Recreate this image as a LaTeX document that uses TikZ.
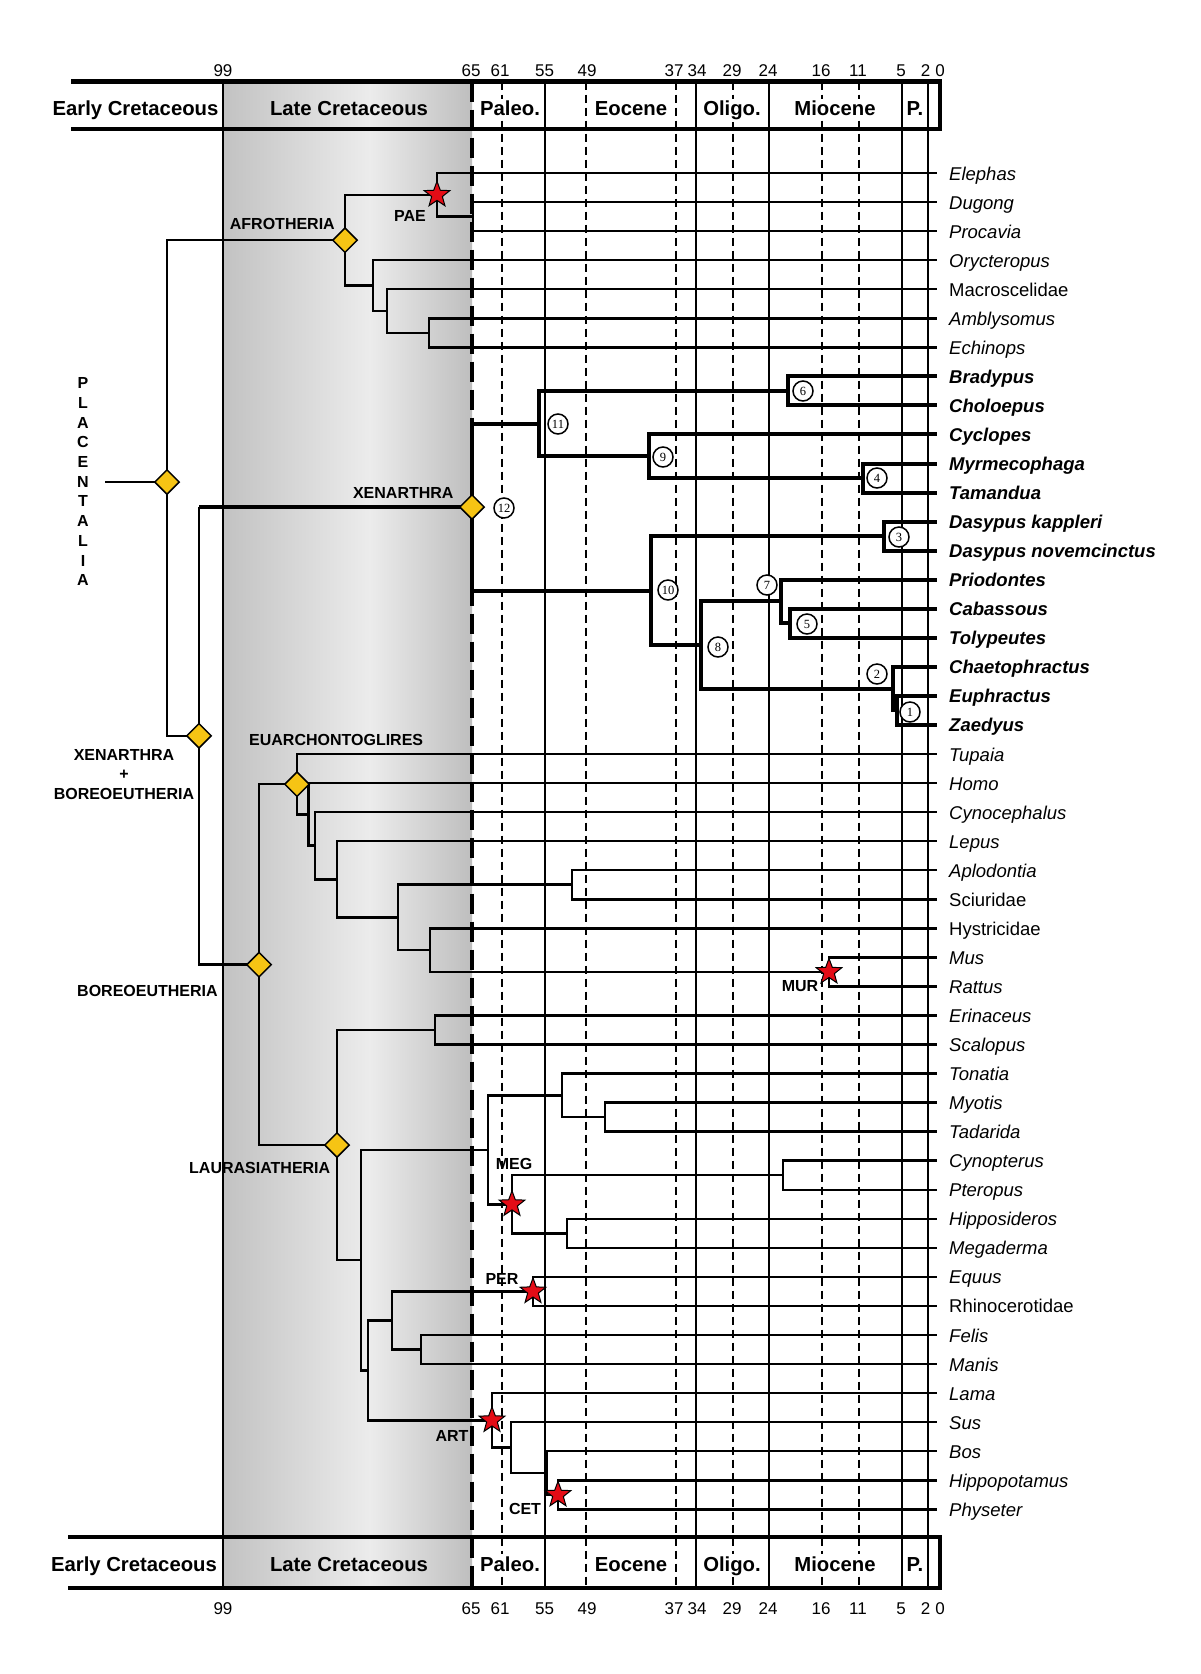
\documentclass[tikz,border=0pt]{standalone}
\usepackage{fontspec}
\setmainfont{Liberation Sans}
\newfontfamily\numserif{Liberation Serif}
\usetikzlibrary{shapes.geometric}
\definecolor{diay}{RGB}{246,196,20}
\definecolor{stred}{RGB}{228,12,22}
\definecolor{gL}{RGB}{194,194,194}
\definecolor{gM}{RGB}{236,236,236}
\definecolor{gR}{RGB}{190,190,190}
\newcommand{\tY}[1]{173+29.05*(#1)}
\begin{document}
\begin{tikzpicture}[x=1pt,y=-1pt,
  tree/.style={line width=2.5pt},
  xtree/.style={line width=4pt},
  tline/.style={line width=1.6pt},
  dline/.style={line width=1.6pt, dash pattern=on 8pt off 5pt},
  kline/.style={line width=4pt, dash pattern=on 20pt off 8pt},
  hline/.style={line width=4.5pt, line join=miter},
  dia/.style={diamond, draw=black, line width=1.5pt, fill=diay, minimum width=25pt, minimum height=25pt, inner sep=0pt},
  stary/.style={star, star points=5, star point ratio=2.4, draw=black, line width=1pt, fill=stred, minimum size=27pt, inner sep=0pt},
  circ/.style={circle, draw=black, line width=1.5pt, fill=white, minimum size=20pt, inner sep=0pt, font=\numserif\fontsize{12.5}{12.5}\selectfont},
  clab/.style={font=\bfseries\fontsize{16}{18}\selectfont, inner sep=0pt},
  hdr/.style={font=\bfseries\fontsize{20.3}{22}\selectfont, inner sep=0pt, anchor=base},
  hdrw/.style={hdr, fill=white, inner xsep=1pt, inner ysep=2pt},
  num/.style={font=\fontsize{17}{18}\selectfont, inner sep=0pt, anchor=base},
  taxon/.style={anchor=base west, inner sep=0pt}
]
\useasboundingbox (0,0) rectangle (1200,1674);
\fill[white] (0,0) rectangle (1200,1674);
% grey band (Late Cretaceous)
\shade[left color=gL, right color=gM] (223,81.7) rectangle (370,1588);
\shade[left color=gM, right color=gR] (369.5,81.7) rectangle (472,1588);
% time lines
\foreach \x in {223,545,696,769,902,928} \draw[tline] (\x,81.7) -- (\x,1588);
\foreach \x in {502,586,676,733,822,859} \draw[dline] (\x,81.7) -- (\x,1588);
\draw[kline] (472,81.7) -- (472,1588);
% header frames
\draw[hline] (71,81.7) -- (940,81.7) -- (940,129) -- (71,129);
\draw[hline] (68,1537) -- (940,1537) -- (940,1588) -- (68,1588);
% header texts
\node[hdr] (hE1) at (135.5,115.3) {Early Cretaceous};
\node[hdr] (hE2) at (134,1571) {Early Cretaceous};
\foreach \yy [count=\k] in {115.3,1571} {
  \node[hdr] (hL\k) at (349,\yy) {Late Cretaceous};
  \node[hdrw] (hP\k) at (510,\yy) {Paleo.};
  \node[hdrw] (hEo\k) at (631,\yy) {Eocene};
  \node[hdrw] (hO\k) at (732,\yy) {Oligo.};
  \node[hdrw] (hM\k) at (835,\yy) {Miocene};
  \node[hdr] (hPl\k) at (915,\yy) {P.};
}
% age numbers
\foreach \yy [count=\k] in {76,1614} {
  \foreach \a/\x in {99/223,65/471,61/500,55/544.5,49/587,37/674,34/697,29/732,24/768,16/821,11/858,5/901,2/925.5,0/940} {
    \node[num] (a\a-\k) at (\x,\yy) {\a};
  }
}
% tips
\foreach \i/\n/\f in {0/Elephas/\itshape,1/Dugong/\itshape,2/Procavia/\itshape,3/Orycteropus/\itshape,
  4/Macroscelidae/\upshape,5/Amblysomus/\itshape,6/Echinops/\itshape,
  7/Bradypus/\bfseries\itshape,8/Choloepus/\bfseries\itshape,9/Cyclopes/\bfseries\itshape,
  10/Myrmecophaga/\bfseries\itshape,11/Tamandua/\bfseries\itshape,12/Dasypus kappleri/\bfseries\itshape,
  13/Dasypus novemcinctus/\bfseries\itshape,14/Priodontes/\bfseries\itshape,15/Cabassous/\bfseries\itshape,
  16/Tolypeutes/\bfseries\itshape,17/Chaetophractus/\bfseries\itshape,18/Euphractus/\bfseries\itshape,
  19/Zaedyus/\bfseries\itshape,20/Tupaia/\itshape,21/Homo/\itshape,22/Cynocephalus/\itshape,
  23/Lepus/\itshape,24/Aplodontia/\itshape,25/Sciuridae/\upshape,26/Hystricidae/\upshape,
  27/Mus/\itshape,28/Rattus/\itshape,29/Erinaceus/\itshape,30/Scalopus/\itshape,31/Tonatia/\itshape,
  32/Myotis/\itshape,33/Tadarida/\itshape,34/Cynopterus/\itshape,35/Pteropus/\itshape,
  36/Hipposideros/\itshape,37/Megaderma/\itshape,38/Equus/\itshape,39/Rhinocerotidae/\upshape,
  40/Felis/\itshape,41/Manis/\itshape,42/Lama/\itshape,43/Sus/\itshape,44/Bos/\itshape,
  45/Hippopotamus/\itshape,46/Physeter/\itshape} {
  \coordinate (t\i) at (937,{\tY{\i}});
  \node[taxon, font={\fontsize{18.5}{20}\selectfont\f}] (l\i) at (949,{\tY{\i}+7}) {\n};
}
% internal nodes
\coordinate (nDP) at (473,{\tY{1.5}});
\coordinate (nEl) at (437,{\tY{0.75}});
\coordinate (nAE) at (429,{\tY{5.5}});
\coordinate (nMA) at (387,{\tY{4.75}});
\coordinate (nOr) at (373,{\tY{3.875}});
\coordinate (nAfro) at (345,{\tY{2.3125}});
\coordinate (n6) at (788,{\tY{7.5}});
\coordinate (n4) at (863,{\tY{10.5}});
\coordinate (n9) at (649,{\tY{9.75}});
\coordinate (n11) at (539,{\tY{8.625}});
\coordinate (n3) at (884,{\tY{12.5}});
\coordinate (n5) at (789.5,{\tY{15.5}});
\coordinate (n7) at (781,{\tY{14.75}});
\coordinate (n1) at (897,{\tY{18.5}});
\coordinate (n2) at (893,{\tY{17.75}});
\coordinate (n8) at (700.6,{\tY{16.25}});
\coordinate (n10) at (651,{\tY{14.375}});
\coordinate (nXen) at (472,{\tY{11.5}});
\coordinate (nMR) at (829,{\tY{27.5}});
\coordinate (nHy) at (430,{\tY{26.75}});
\coordinate (nAS) at (572,{\tY{24.5}});
\coordinate (nRod) at (398,{\tY{25.625}});
\coordinate (nGl) at (337,{\tY{24.3125}});
\coordinate (nCy) at (315,{\tY{23.15625}});
\coordinate (nHo) at (308.5,{\tY{22.078}});
\coordinate (nEua) at (297,{\tY{21.039}});
\coordinate (nES) at (435,{\tY{29.5}});
\coordinate (nMT) at (605,{\tY{32.5}});
\coordinate (nTo) at (562,{\tY{31.75}});
\coordinate (nCP) at (783,{\tY{34.5}});
\coordinate (nHM) at (567,{\tY{36.5}});
\coordinate (nMeg) at (512,{\tY{35.5}});
\coordinate (nChi) at (488,{\tY{33.625}});
\coordinate (nER) at (533,{\tY{38.5}});
\coordinate (nFM) at (421,{\tY{40.5}});
\coordinate (nPeg) at (392,{\tY{39.5}});
\coordinate (nCet) at (558,{\tY{45.5}});
\coordinate (nBH) at (547,{\tY{44.75}});
\coordinate (nSBH) at (511,{\tY{43.875}});
\coordinate (nArt) at (492,{\tY{42.9375}});
\coordinate (nFer) at (368,{\tY{41.21875}});
\coordinate (nSc) at (361,{\tY{37.421875}});
\coordinate (nLau) at (337,{\tY{33.4609}});
\coordinate (nBor) at (259,{\tY{27.25}});
\coordinate (nXB) at (199,{\tY{19.375}});
\coordinate (nPla) at (167,482);
\coordinate (root) at (105,482);
% branches
\foreach \a/\b in {nDP/t1,nDP/t2,nEl/t0,nEl/nDP,nAE/t5,nAE/t6,nMA/t4,nMA/nAE,nOr/t3,nOr/nMA,
  nAfro/nEl,nAfro/nOr,nPla/nAfro,nPla/nXB,
  nMR/t27,nMR/t28,nHy/t26,nHy/nMR,nAS/t24,nAS/t25,nRod/nAS,nRod/nHy,nGl/t23,nGl/nRod,
  nCy/t22,nCy/nGl,nHo/t21,nHo/nCy,nEua/t20,nEua/nHo,nBor/nEua,nBor/nLau,nXB/nBor,
  nES/t29,nES/t30,nMT/t32,nMT/t33,nTo/t31,nTo/nMT,nCP/t34,nCP/t35,nHM/t36,nHM/t37,
  nMeg/nCP,nMeg/nHM,nChi/nTo,nChi/nMeg,nER/t38,nER/t39,nFM/t40,nFM/t41,nPeg/nER,nPeg/nFM,
  nCet/t45,nCet/t46,nBH/t44,nBH/nCet,nSBH/t43,nSBH/nBH,nArt/t42,nArt/nSBH,nFer/nPeg,nFer/nArt,
  nSc/nChi,nSc/nFer,nLau/nES,nLau/nSc}
  \draw[tree] (\a) |- (\b);
\draw[tree] (root) -- (nPla);
\draw[tree] (nXB) -- (nXB |- nXen);
\draw[xtree] (nXB |- nXen) -- (nXen);
\foreach \a/\b in {n6/t7,n6/t8,n4/t10,n4/t11,n9/t9,n9/n4,n11/n6,n11/n9,n3/t12,n3/t13,
  n5/t15,n5/t16,n7/t14,n7/n5,n1/t18,n1/t19,n2/t17,n2/n1,n8/n7,n8/n2,n10/n3,n10/n8,
  nXen/n11,nXen/n10}
  \draw[xtree] (\a) |- (\b);
% diamonds
\foreach \d in {nAfro,nXen,nEua,nBor,nLau,nXB,nPla}
  \node[dia] (D\d) at (\d) {};
% stars and their labels
\foreach \s in {nEl,nMR,nMeg,nER,nArt,nCet}
  \node[stary] (S\s) at (\s) {};
\node[clab, anchor=base] (PAE) at (410,221.7) {PAE};
\node[clab, anchor=base] (MUR) at (800,991.7) {MUR};
\node[clab, anchor=base] (MEG) at (514,1169.7) {MEG};
\node[clab, anchor=base] (PER) at (502,1284.7) {PER};
\node[clab, anchor=base] (ART) at (452,1441.7) {ART};
\node[clab, anchor=base] (CET) at (525,1514.7) {CET};
% numbered circles
\foreach \k/\x/\y in {1/910/712,2/877/674,3/899/537,4/877/478,5/807/624,6/803/391,
  7/767/585,8/718/647,9/663/457,10/668/590,11/558/424,12/504/508}
  \node[circ] (c\k) at (\x,\y) {\k};
% clade labels
\node[clab, anchor=base east] (afro) at (335,229.7) {AFROTHERIA};
\node[clab, anchor=base east] (xen) at (453.7,498.7) {XENARTHRA};
\node[clab, anchor=base west] (eua) at (249,745.7) {EUARCHONTOGLIRES};
\node[clab, anchor=base] (xb1) at (124,760.7) {XENARTHRA};
\node[clab, anchor=center] (xb2) at (124,775) {+};
\node[clab, anchor=base] (xb3) at (124,799) {BOREOEUTHERIA};
\node[clab, anchor=base west] (bor) at (77,996.4) {BOREOEUTHERIA};
\node[clab, anchor=base west] (lau) at (189,1173.7) {LAURASIATHERIA};
\foreach \c [count=\k from 0] in {P,L,A,C,E,N,T,A,L,I,A}
  \node[clab, anchor=base] (pl\k) at (83,{383+19.7*\k+5.7}) {\c};
\end{tikzpicture}
\end{document}
